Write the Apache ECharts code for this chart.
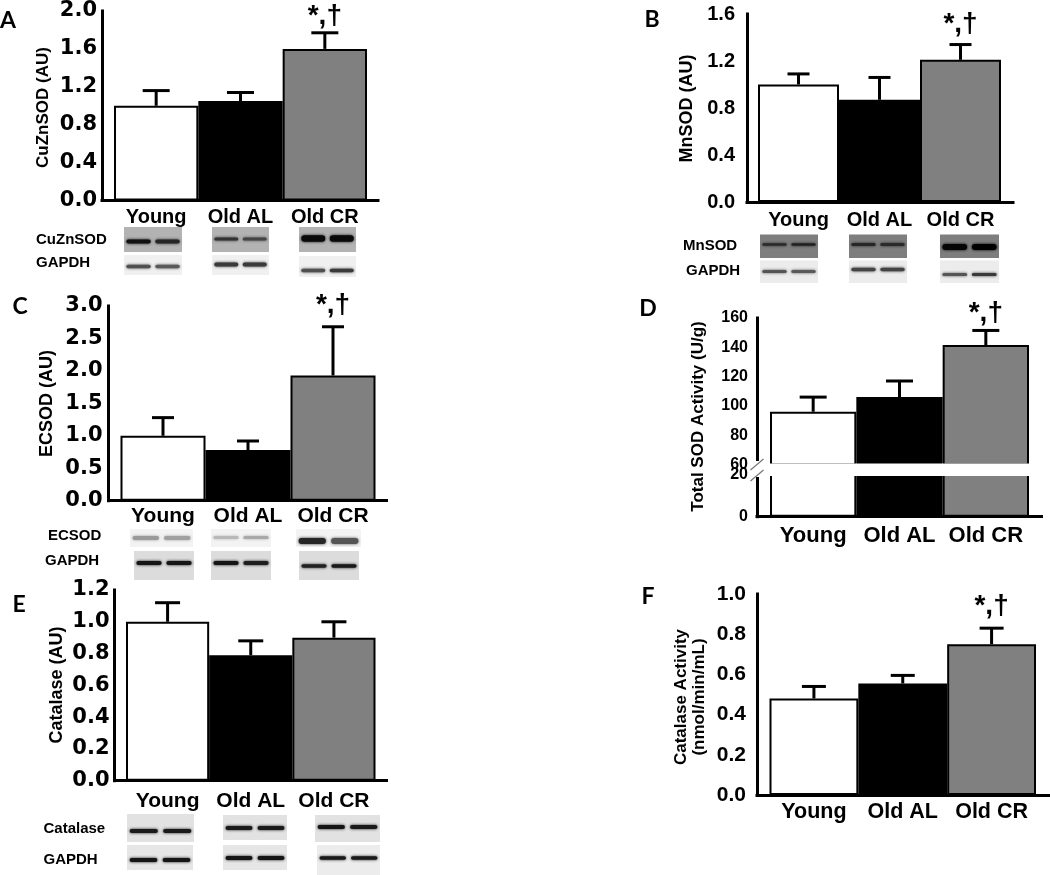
<!DOCTYPE html>
<html><head><meta charset="utf-8">
<script src="https://cdn.jsdelivr.net/npm/echarts@6.0.0/dist/echarts.min.js"></script>
<style>html,body{margin:0;padding:0;background:#fff}#c{width:1050px;height:875px}</style>
</head><body><div id="c"></div>
<script>
// ---------------- data ----------------
const categories = ['Young', 'Old AL', 'Old CR'];
const barColors = ['#ffffff', '#000000', '#808080'];

const cuznsodMean = [1.0, 1.05, 1.6];
const cuznsodErr = [0.16, 0.09, 0.17];
const mnsodMean = [1.0, 0.87, 1.21];
const mnsodErr = [0.09, 0.19, 0.13];
const ecsodMean = [1.0, 0.78, 1.93];
const ecsodErr = [0.28, 0.14, 0.75];
const totalSodMean = [96, 106, 141.5];
const totalSodErr = [10, 11, 10];
const catalaseMean = [1.0, 0.79, 0.9];
const catalaseErr = [0.12, 0.09, 0.1];
const catalaseActMean = [0.48, 0.555, 0.75];
const catalaseActErr = [0.06, 0.04, 0.08];

const sigMarks = ['', '', '*,\u2020'];
const noMarks = ['', '', ''];

const yTicksA = [0.0, 0.4, 0.8, 1.2, 1.6, 2.0];
const yTicksB = [0.0, 0.4, 0.8, 1.2, 1.6];
const yTicksC = [0.0, 0.5, 1.0, 1.5, 2.0, 2.5, 3.0];
const yTicksDUpper = [60, 80, 100, 120, 140, 160];
const yTicksDLower = [0, 20];
const yTicksE = [0.0, 0.2, 0.4, 0.6, 0.8, 1.0, 1.2];
const yTicksF = [0.0, 0.2, 0.4, 0.6, 0.8, 1.0];

// ---------------- chart ----------------
const FONT = '"Liberation Sans", Arial, sans-serif';
const WIDE = '"DejaVu Sans", sans-serif';
const option = {
  animation: false,
  backgroundColor: '#ffffff',
  grid: [], xAxis: [], yAxis: [], series: [],
  graphic: { elements: [] }
};
const G = option.graphic.elements;
const axisLineStyle = { color: '#000', width: 3, cap: 'square' };

function addGrid(l, t, r, b) {
  option.grid.push({ left: l, top: t, width: r - l, height: b - t });
  return option.grid.length - 1;
}

function addPanel(cfg) {
  cfg.segments.forEach(seg => {
    const ticks = seg.ticks;
    const min = ticks[0], max = ticks[ticks.length - 1];
    const interval = +(ticks[1] - ticks[0]).toFixed(6);
    // frame grid: visible axes
    const gf = addGrid(cfg.axisL, seg.t, cfg.axisR, seg.b);
    option.xAxis.push({
      gridIndex: gf, type: 'category', data: categories, show: seg.showX,
      axisLine: { show: true, lineStyle: axisLineStyle },
      axisTick: { show: false }, axisLabel: { show: false }, splitLine: { show: false }
    });
    option.yAxis.push({
      gridIndex: gf, type: 'value', min: min, max: max, interval: interval,
      axisLine: { show: true, lineStyle: axisLineStyle },
      axisTick: { show: false }, splitLine: { show: false },
      axisLabel: {
        color: '#000', fontFamily: cfg.tickFont || FONT, fontWeight: 'bold',
        fontSize: cfg.tickSize, margin: cfg.tickMargin,
        formatter: v => v.toFixed(cfg.dec)
      }
    });
    // data grid: bars
    const gd = addGrid(cfg.barL, seg.t, cfg.barR, seg.b);
    option.xAxis.push({
      gridIndex: gd, type: 'category', data: categories,
      axisLine: { show: false }, axisTick: { show: false }, splitLine: { show: false },
      axisLabel: {
        show: seg.showX, interval: 0, color: '#000', fontFamily: FONT,
        fontWeight: 'bold', fontSize: cfg.catSize || 20, margin: cfg.catMargin
      }
    });
    option.yAxis.push({ gridIndex: gd, type: 'value', min: min, max: max, interval: interval, show: false });
    const ai = option.xAxis.length - 1;
    option.series.push({
      type: 'bar', xAxisIndex: ai, yAxisIndex: ai, silent: true,
      barCategoryGap: '0%', clip: true,
      itemStyle: { borderColor: '#000', borderWidth: 2 },
      data: cfg.mean.map((v, i) => ({ value: v, itemStyle: { color: barColors[i] } }))
    });
    if (seg.err) {
      option.series.push({
        type: 'custom', xAxisIndex: ai, yAxisIndex: ai, silent: true, z: 3, clip: false,
        data: cfg.mean.map((m, i) => [i, m, cfg.err[i]]),
        renderItem: (params, api) => {
          const i = api.value(0), m = api.value(1), e = api.value(2);
          const p0 = api.coord([i, m]), p1 = api.coord([i, m + e]);
          const hw = cfg.capW / 2;
          const children = [
            { type: 'line', shape: { x1: p0[0], y1: p0[1], x2: p1[0], y2: p1[1] }, style: { stroke: '#000', lineWidth: 3 } },
            { type: 'line', shape: { x1: p1[0] - hw, y1: p1[1], x2: p1[0] + hw, y2: p1[1] }, style: { stroke: '#000', lineWidth: 3 } }
          ];
          const mark = cfg.marks[params.dataIndex];
          if (mark) {
            children.push({ type: 'text', style: {
              text: mark, x: p1[0], y: p1[1] - cfg.markGap, align: 'center', verticalAlign: 'middle',
              font: 'bold 28px ' + FONT, fill: '#000' } });
          }
          return { type: 'group', children: children };
        }
      });
    }
  });
}

addPanel({ axisL: 102, axisR: 378, barL: 114, barR: 367, tickSize: 21, tickFont: WIDE, tickMargin: 5, dec: 1,
  catSize: 20, catMargin: 7, capW: 27, markGap: 17, mean: cuznsodMean, err: cuznsodErr, marks: sigMarks,
  segments: [{ t: 11, b: 200.5, ticks: yTicksA, showX: true, err: true }] });
addPanel({ axisL: 747, axisR: 1013, barL: 758, barR: 1001, tickSize: 20, tickMargin: 12, dec: 1,
  catSize: 20, catMargin: 8, capW: 22, markGap: 20, mean: mnsodMean, err: mnsodErr, marks: sigMarks,
  segments: [{ t: 14, b: 202, ticks: yTicksB, showX: true, err: true }] });
addPanel({ axisL: 108.5, axisR: 386.5, barL: 120.5, barR: 375.5, tickSize: 21, tickFont: WIDE, tickMargin: 6, dec: 1,
  catSize: 21, catMargin: 5, capW: 22, markGap: 21, mean: ecsodMean, err: ecsodErr, marks: sigMarks,
  segments: [{ t: 306, b: 500.7, ticks: yTicksC, showX: true, err: true }] });
addPanel({ axisL: 757, axisR: 1041.5, barL: 770, barR: 1029, tickSize: 16, tickMargin: 9, dec: 0,
  catSize: 22, catMargin: 8, capW: 27, markGap: 17, mean: totalSodMean, err: totalSodErr, marks: sigMarks,
  segments: [
    { t: 318, b: 464.5, ticks: yTicksDUpper, showX: false, err: true },
    { t: 475, b: 516.7, ticks: yTicksDLower, showX: true, err: false }
  ] });
addPanel({ axisL: 114.5, axisR: 386.5, barL: 126, barR: 375.5, tickSize: 21, tickFont: WIDE, tickMargin: 5, dec: 1,
  catSize: 21, catMargin: 10, capW: 25, markGap: 20, mean: catalaseMean, err: catalaseErr, marks: noMarks,
  segments: [{ t: 590, b: 780.7, ticks: yTicksE, showX: true, err: true }] });
addPanel({ axisL: 757, axisR: 1049, barL: 769.5, barR: 1036, tickSize: 21, tickMargin: 11, dec: 1,
  catSize: 21.5, catMargin: 6, capW: 24, markGap: 22, mean: catalaseActMean, err: catalaseActErr, marks: sigMarks,
  segments: [{ t: 594, b: 795, ticks: yTicksF, showX: true, err: true }] });

// ---------------- decorations ----------------
function text(x, y, str, font) {
  G.push({ type: 'text', x: x, y: y, z: 20, silent: true,
    style: { text: str, x: 0, y: 0, font: font, fill: '#000', align: 'center', verticalAlign: 'middle' } });
}
function vtitle(x, y, str, size, lh) {
  G.push({ type: 'text', x: x, y: y, rotation: Math.PI / 2, z: 20, silent: true,
    style: { text: str, x: 0, y: 0, font: 'bold ' + size + 'px ' + FONT, fill: '#000',
      align: 'center', verticalAlign: 'middle', lineHeight: lh || size * 1.15 } });
}
const LETTER = 'bold 23px Lato, "Open Sans", sans-serif';
text(8, 20.5, 'A', LETTER);
text(652, 19.5, 'B', LETTER);
text(20, 306.5, 'C', LETTER);
text(648, 309, 'D', LETTER);
text(19, 605, 'E', LETTER);
text(648, 596.5, 'F', LETTER);

vtitle(43.5, 107.5, 'CuZnSOD (AU)', 17);
vtitle(687.5, 108.5, 'MnSOD (AU)', 18);
vtitle(47.5, 403.5, 'ECSOD (AU)', 18);
vtitle(698.5, 416.5, 'Total SOD Activity (U/g)', 17);
vtitle(57.5, 685, 'Catalase (AU)', 18);
vtitle(690, 697, 'Catalase Activity\n(nmol/min/mL)', 17, 18);

// axis break for panel D
G.push({ type: 'rect', z: 50, silent: true, shape: { x: 767, y: 463.5, width: 265, height: 12.5 }, style: { fill: '#fff' } });
G.push({ type: 'rect', z: 50, silent: true, shape: { x: 752, y: 461, width: 10, height: 16 }, style: { fill: '#fff' } });
G.push({ type: 'line', z: 51, silent: true, shape: { x1: 750.5, y1: 470, x2: 763.5, y2: 459 }, style: { stroke: '#777', lineWidth: 1.2 } });
G.push({ type: 'line', z: 51, silent: true, shape: { x1: 750.5, y1: 481, x2: 763.5, y2: 470 }, style: { stroke: '#777', lineWidth: 1.2 } });

// western blot strips
function blot(x1, x2, y1, y2, bg, bandY, bandH, c1, c2) {
  G.push({ type: 'rect', z: 5, silent: true, shape: { x: x1, y: y1, width: x2 - x1, height: y2 - y1 }, style: { fill: bg } });
  const w = x2 - x1, lane = w / 2;
  [[c1, 0], [c2 || c1, 1]].forEach(([c, k]) => {
    const bx = x1 + k * lane + lane * 0.08, bw = lane * 0.84;
    G.push({ type: 'rect', z: 6, silent: true,
      shape: { x: bx, y: bandY - bandH / 2, width: bw, height: bandH, r: bandH / 2 },
      style: { fill: c, shadowBlur: 3, shadowColor: c } });
  });
}
const LBL = 'bold 15px ' + FONT;
function blotLabel(x, y, str) {
  G.push({ type: 'text', x: x, y: y, z: 20, silent: true,
    style: { text: str, x: 0, y: 0, font: LBL, fill: '#000', align: 'left', verticalAlign: 'middle' } });
}
// Panel A
blotLabel(36, 239.5, 'CuZnSOD'); blotLabel(36, 263, 'GAPDH');
blot(124, 182, 227, 252, '#b3b3b3', 241.5, 4, '#111', '#262626');
blot(212, 269, 227, 252, '#b3b3b3', 239, 3, '#333', '#444');
blot(299, 356, 227, 252, '#b3b3b3', 238.5, 6.5, '#0a0a0a', '#0a0a0a');
blot(124, 182, 255, 275, '#f0f0f0', 266.5, 3.5, '#505050', '#5a5a5a');
blot(212, 269, 255, 275, '#f0f0f0', 264.5, 4, '#3a3a3a', '#3a3a3a');
blot(299, 356, 256, 277, '#f0f0f0', 270.5, 3.5, '#505050', '#3a3a3a');
// Panel B
blotLabel(683, 245.5, 'MnSOD'); blotLabel(686, 271, 'GAPDH');
blot(760, 818, 234.5, 258, '#7e7e7e', 244.5, 2.5, '#2a2a2a', '#222');
blot(849, 907, 234.5, 258, '#7e7e7e', 244.5, 3, '#262626', '#2a2a2a');
blot(940, 999, 234.5, 258, '#7e7e7e', 247, 6, '#050505', '#000');
blot(760, 818, 260.5, 283, '#ececec', 271.5, 3, '#555', '#5a5a5a');
blot(849, 907, 260.5, 283, '#ececec', 269.5, 3.5, '#444', '#444');
blot(940, 999, 260.5, 283, '#ececec', 274.5, 3, '#555', '#3a3a3a');
// Panel C
blotLabel(48, 535.5, 'ECSOD'); blotLabel(45, 561, 'GAPDH');
blot(130, 193, 529, 547, '#f3f3f3', 538, 4, '#9a9a9a', '#a0a0a0');
blot(211, 271, 529, 547, '#f3f3f3', 537.5, 3, '#b8b8b8', '#a8a8a8');
blot(296, 361, 529, 547, '#f3f3f3', 541, 6, '#262626', '#555');
blot(134, 194, 551, 580, '#dcdcdc', 563, 4, '#151515', '#151515');
blot(211, 271, 551, 580, '#dcdcdc', 563, 4, '#151515', '#1e1e1e');
blot(299, 359, 551, 580, '#dcdcdc', 566, 3.5, '#222', '#1a1a1a');
// Panel E
blotLabel(43.5, 828.5, 'Catalase'); blotLabel(43.5, 860, 'GAPDH');
blot(127, 194, 814, 842, '#e2e2e2', 831, 4, '#1a1a1a', '#1a1a1a');
blot(223, 287, 815, 840, '#e2e2e2', 828, 4, '#1a1a1a', '#1a1a1a');
blot(315, 380, 815, 842, '#e2e2e2', 827, 4, '#151515', '#1a1a1a');
blot(127, 193, 845, 870, '#e6e6e6', 860, 4, '#151515', '#151515');
blot(223, 287, 845, 870, '#e6e6e6', 858, 4, '#151515', '#151515');
blot(317, 380, 845, 875, '#ececec', 858, 3.5, '#1a1a1a', '#1a1a1a');

const chart = echarts.init(document.getElementById('c'), null, { renderer: 'canvas' });
chart.setOption(option);
</script>
</body></html>
